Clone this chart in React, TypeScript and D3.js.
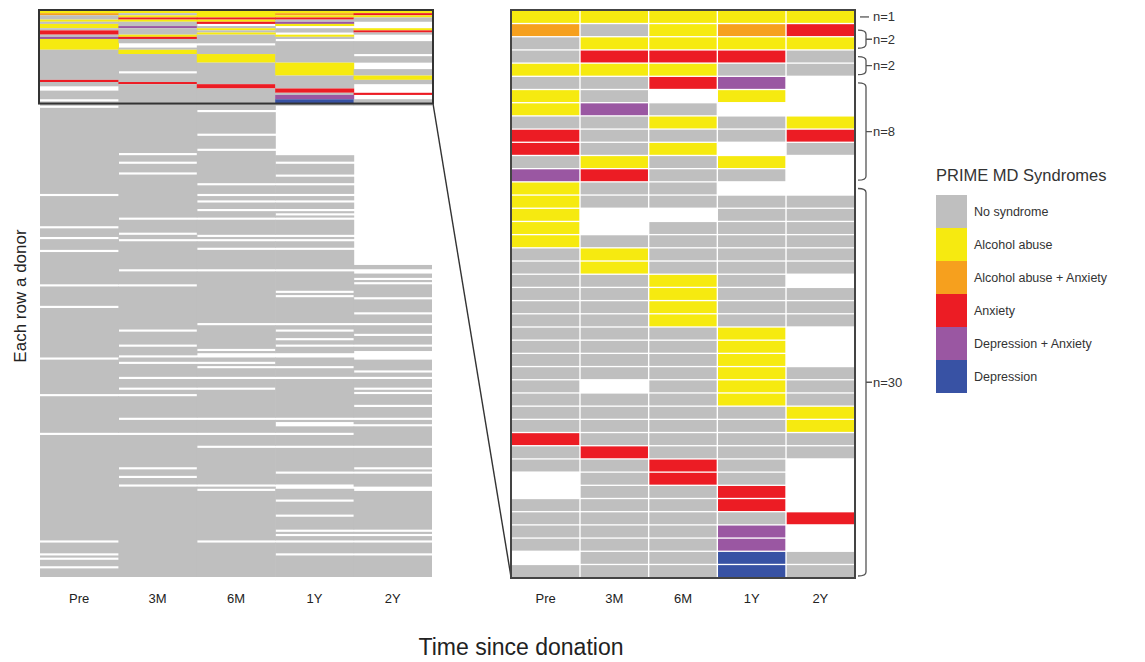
import React from "react";
import * as d3 from "d3";

const timepoints = ["Pre", "3M", "6M", "1Y", "2Y"];

const syndromeCodes = ["G", "Y", "O", "R", "P", "B"];
const syndromeLabels = [
  "No syndrome",
  "Alcohol abuse",
  "Alcohol abuse + Anxiety",
  "Anxiety",
  "Depression + Anxiety",
  "Depression"
];
const syndromeColors = ["#bfbfbf", "#f6ea10", "#f6a01e", "#ec1c24", "#9a57a2", "#3852a4"];

// donors with a syndrome at any time point, one string per donor (Pre,3M,6M,1Y,2Y)
// W = not assessed
const affectedRows = [
  "YYYYY",
  "OGYOR", "GYYYY",
  "GRRRG", "YYYGG",
  "GGRPW", "YGWYW", "YPGWW", "GGYGY", "RGGGR", "RGYWG", "GYGYW", "PRGGW",
  "YGGWW", "YGGGG", "YWWGG", "YWGGG", "YGGGG", "GYGGG", "GYGGG", "GGYGW",
  "GGYGG", "GGYGG", "GGYGG", "GGGYW", "GGGYW", "GGGYW", "GGGYG", "GWGYG",
  "GGGYG", "GGGGY", "GGGGY", "RGGGG", "GRGGG", "GGRGW", "WGRGW", "WGGRW",
  "GGGRW", "GGGGR", "GGGPW", "GGGPW", "WGGBG", "GGGBG"
];

const groupSizes = [1, 2, 2, 8, 30];
const donorCount = 263;

// remaining donors: no syndrome, except these rows (0-based) which were not assessed
const missingPre = [44, 85, 100, 105, 111, 127, 137, 161, 178, 196, 246, 252, 254, 258];
const missing3M = [66, 70, 75, 96, 103, 106, 120, 127, 148, 155, 160, 163, 170, 175, 178, 189, 196, 212, 216, 220];
const missing6M = [46, 57, 64, 80, 85, 88, 92, 96, 104, 106, 110, 120, 145, 157, 159, 160, 163, 165, 170, 175, 189, 196, 202, 220, 222, 246];
const missing1Y: (number | number[])[] = [[44, 66], 70, 76, 80, 85, 88, 92, 94, 96, 104, 106, 110, 120, 130, 132, 145, 148, 152, 155, 159, 160, 165, 170, 189, 191, 192, 196, 202, 214, 220, 221, 227, 234, 241, 243, 246, 252];
const missing2Y: (number | number[])[] = [[44, 117], 120, 121, 124, 126, 133, 140, 145, 150, 155, 158, 159, 160, 161, 167, 170, 175, 177, 183, 189, 192, 202, 212, 214, 221, 222, 241, 243, 246, 252];

function toSet(list: (number | number[])[]) {
  const s = new Set<number>();
  list.forEach((v) => {
    if (Array.isArray(v)) d3.range(v[0], v[1] + 1).forEach((r) => s.add(r));
    else s.add(v);
  });
  return s;
}

const missingSets = [missingPre, missing3M, missing6M, missing1Y, missing2Y].map(toSet);

function codeAt(r: number, c: number) {
  if (r < affectedRows.length) return affectedRows[r][c];
  return missingSets[c].has(r) ? "W" : "G";
}

const color = d3.scaleOrdinal<string, string>(syndromeCodes, syndromeColors);

const narrow = "'Liberation Sans Narrow', 'Arial Narrow', sans-serif";
const sans = "'Liberation Sans', Arial, sans-serif";

export default function App() {
  const top = 11;
  const bottom = 577;

  // overview panel: every donor
  const xL = d3.scaleBand<string>().domain(timepoints).range([40, 432]);
  const yL = d3.scaleBand<number>().domain(d3.range(donorCount)).range([top, bottom]);

  // merge consecutive equal cells in a column into one rect
  const runs: { c: number; start: number; end: number; code: string }[] = [];
  timepoints.forEach((t, c) => {
    let start = 0;
    for (let r = 1; r <= donorCount; r++) {
      if (r === donorCount || codeAt(r, c) !== codeAt(start, c)) {
        runs.push({ c, start, end: r - 1, code: codeAt(start, c) });
        start = r;
      }
    }
  });

  // zoomed panel: donors with a syndrome
  const nZoom = affectedRows.length;
  const xR = d3.scaleBand<string>().domain(timepoints).range([512, 854]).paddingInner(0.02);
  const yR = d3.scaleBand<number>().domain(d3.range(nZoom)).range([top, bottom]).paddingInner(0.1);

  const boxBottom = (yL(nZoom - 1) as number) + yL.bandwidth();

  const groups: { start: number; end: number; n: number }[] = [];
  let acc = 0;
  groupSizes.forEach((n) => {
    groups.push({ start: acc, end: acc + n - 1, n });
    acc += n;
  });

  const bracketY = (g: { start: number; end: number; n: number }) => {
    const y0 = (yR(g.start) as number) + (g.n === 1 ? 0 : 6);
    const y1 = (yR(g.end) as number) + yR.bandwidth() - 1;
    const mid = g.n === 1 ? (yR(g.start) as number) + yR.bandwidth() / 2 : (y0 + y1) / 2;
    return { y0, y1, mid };
  };

  return (
    <svg
      width={1145}
      height={662}
      style={{ position: "absolute", left: 0, top: 0, background: "#fff" }}
    >
      {/* left overview */}
      <g>
        {runs
          .filter((d) => d.code !== "W")
          .map((d, i) => (
            <rect
              key={i}
              x={xL(timepoints[d.c])}
              y={yL(d.start)}
              width={xL.bandwidth() + (d.c < timepoints.length - 1 ? 0.6 : 0)}
              height={(yL(d.end) as number) + yL.bandwidth() - (yL(d.start) as number)}
              fill={color(d.code)}
            />
          ))}
        <rect
          x={39}
          y={10}
          width={394}
          height={boxBottom - 10}
          fill="none"
          stroke="#333"
          strokeWidth={2}
        />
        <line x1={433} y1={boxBottom} x2={511} y2={bottom} stroke="#333" strokeWidth={1.4} />
        {timepoints.map((t) => (
          <text
            key={t}
            x={(xL(t) as number) + xL.bandwidth() / 2}
            y={603}
            textAnchor="middle"
            fontFamily={narrow}
            fontSize={13}
            fill="#222"
          >
            {t}
          </text>
        ))}
      </g>

      {/* right zoom */}
      <g>
        {affectedRows.map((row, r) =>
          timepoints.map((t, c) =>
            row[c] === "W" ? null : (
              <rect
                key={r + "-" + c}
                x={xR(t)}
                y={yR(r)}
                width={xR.bandwidth()}
                height={yR.bandwidth()}
                fill={color(row[c])}
              />
            )
          )
        )}
        <rect x={511} y={10} width={344} height={568} fill="none" stroke="#444" strokeWidth={2} />
        {timepoints.map((t) => (
          <text
            key={t}
            x={(xR(t) as number) + xR.bandwidth() / 2}
            y={603}
            textAnchor="middle"
            fontFamily={narrow}
            fontSize={13}
            fill="#222"
          >
            {t}
          </text>
        ))}
      </g>

      {/* group brackets */}
      <g stroke="#555" strokeWidth={1.3} fill="none">
        {groups.map((g) => {
          const { y0, y1, mid } = bracketY(g);
          if (g.n === 1) return <line key={g.start} x1={860} y1={mid} x2={869} y2={mid} />;
          const path = `M858,${y0} Q866,${y0} 866,${y0 + 4} L866,${y1 - 4} Q866,${y1} 858,${y1} M866,${mid} L872,${mid}`;
          return <path key={g.start} d={path} />;
        })}
      </g>
      {groups.map((g) => {
        const { mid } = bracketY(g);
        return (
          <text key={"t" + g.start} x={873} y={mid + 4.5} fontFamily={sans} fontSize={13} fill="#333">
            {"n=" + g.n}
          </text>
        );
      })}

      {/* legend */}
      <g>
        <text x={936} y={181} fontFamily={sans} fontSize={16.5} fill="#333">
          PRIME MD Syndromes
        </text>
        {syndromeLabels.map((label, i) => (
          <g key={label} transform={`translate(936,${195 + i * 33})`}>
            <rect width={31} height={33} fill={syndromeColors[i]} />
            <text x={38} y={21} fontFamily={sans} fontSize={12.5} fill="#333">
              {label}
            </text>
          </g>
        ))}
      </g>

      {/* axis titles */}
      <text
        transform="translate(26,296) rotate(-90)"
        textAnchor="middle"
        fontFamily={sans}
        fontSize={17}
        fill="#222"
      >
        Each row a donor
      </text>
      <text x={521} y={655} textAnchor="middle" fontFamily={narrow} fontSize={23} fill="#222">
        Time since donation
      </text>
    </svg>
  );
}
